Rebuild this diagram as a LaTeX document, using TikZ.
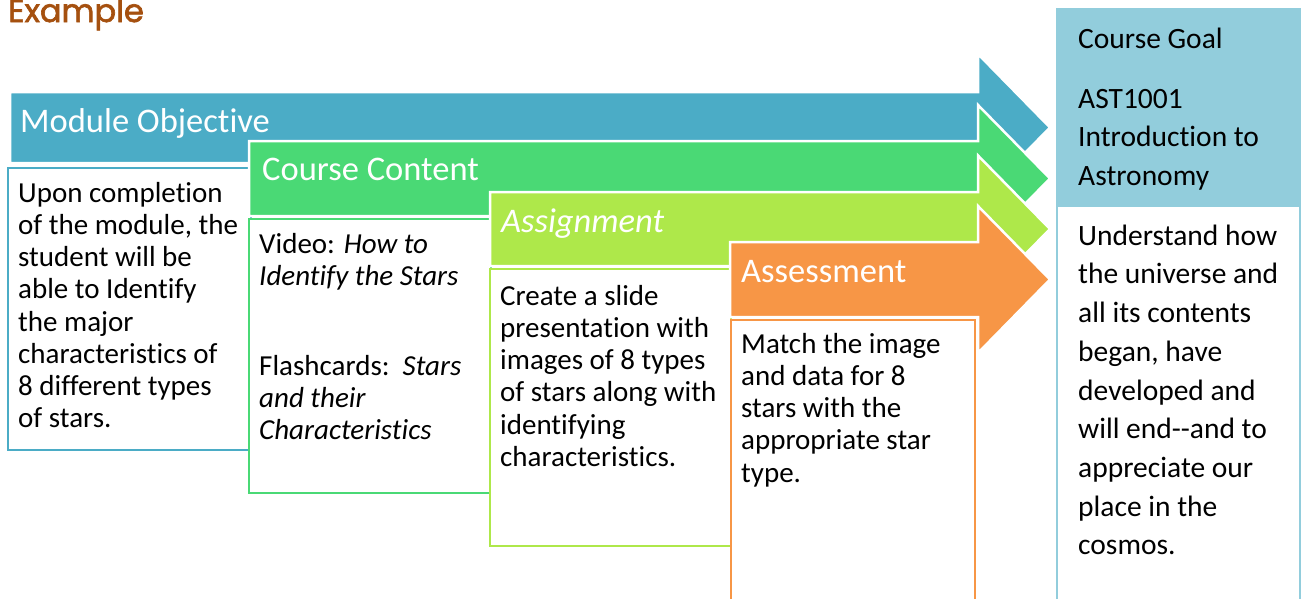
\documentclass[tikz,border=0pt]{standalone}
\usepackage{fontspec}
\setmainfont{Carlito}[Ligatures={TeX,NoCommon}]
\newfontfamily\exfont[FakeBold=2]{Poppins}
\definecolor{cblue}{HTML}{4BACC6}
\definecolor{cgreen}{HTML}{4AD975}
\definecolor{clgreen}{HTML}{AEE84A}
\definecolor{corange}{HTML}{F79646}
\definecolor{cgoal}{HTML}{92CDDC}
\definecolor{cbrown}{HTML}{A5500F}
\newcommand\firstln{\rule{0pt}{24pt}}
\newcommand\firsthd{\rule{0pt}{28pt}}
\tikzset{
  band/.style={draw=white, line width=2.5pt, line join=miter},
  bodybox/.style={fill=white, line width=2.5pt},
  hdtxt/.style={anchor=north west, inner sep=0pt, align=left, text=white, font=\fontsize{34.5}{40}\selectfont},
  bodytxt/.style={anchor=north west, inner sep=0pt, align=left, text=black, font=\fontsize{29}{32.2}\selectfont},
  goaltxt/.style={anchor=north west, inner sep=0pt, align=left, text=black, font=\fontsize{29.5}{38.7}\selectfont},
}
\begin{document}
\begin{tikzpicture}[x=1pt,y=-1pt]
\useasboundingbox (0,0) rectangle (1302,598);
% Example title
\node[anchor=base west, inner sep=0pt, text=cbrown, font=\exfont\fontsize{32}{38}\selectfont] (title) at (8,22) {Example};
% Course goal column
\fill[cgoal] (1057,9) rectangle (1300,207);
\draw[cgoal, line width=2.5pt] (1057,9) rectangle (1300,640);
\node[goaltxt] (goalhd) at (1078,24) {\firstln Course Goal};
\node[goaltxt] (goalname) at (1078,84) {\firstln AST1001\\Introduction to\\Astronomy};
\node[goaltxt] (goalbody) at (1078,221) {\firstln Understand how\\the universe and\\all its contents\\began, have\\developed and\\will end-{}-and to\\appreciate our\\place in the\\cosmos.};
% Module objective
\filldraw[band, fill=cblue] (10,92) -- (978,92) -- (978,54) -- (1050,127.5) -- (978,201) -- (978,163) -- (10,163) -- cycle;
\node[hdtxt] (modhd) at (20,104) {\firsthd Module Objective};
\filldraw[bodybox, draw=cblue] (8,168) rectangle (251,450);
\node[bodytxt] (modbody) at (18,178) {\firstln Upon completion\\of the module, the\\student will be\\able to Identify\\the major\\characteristics of\\8 different types\\of stars.};
% Course content
\filldraw[band, fill=cgreen] (249,141) -- (978,141) -- (978,105) -- (1050,178.5) -- (978,252) -- (978,216) -- (249,216) -- cycle;
\node[hdtxt] (conthd) at (262,152) {\firsthd Course Content};
\filldraw[bodybox, draw=cgreen] (249,219) rectangle (491,493);
\node[bodytxt] (contbody1) at (259,229) {\firstln Video: \textit{How to}\\\textit{Identify the Stars}};
\node[bodytxt] (contbody2) at (259,351) {\firstln Flashcards:\ \ \textit{Stars}\\\textit{and their}\\\textit{Characteristics}};
% Assignment
\filldraw[band, fill=clgreen] (490,192) -- (978,192) -- (978,155.5) -- (1050,229) -- (978,302.5) -- (978,266) -- (490,266) -- cycle;
\node[hdtxt] (asghd) at (501,204) {\firsthd \textit{Assignment}};
\filldraw[bodybox, draw=clgreen] (490,269) rectangle (731,546);
\node[bodytxt] (asgbody) at (500,281) {\firstln Create a slide\\presentation with\\images of 8 types\\of stars along with\\identifying\\characteristics.};
% Assessment
\filldraw[band, fill=corange] (730,242) -- (978,242) -- (978,206) -- (1050,279.5) -- (978,353) -- (978,317) -- (730,317) -- cycle;
\node[hdtxt] (asshd) at (741,254) {\firsthd Assessment};
\filldraw[bodybox, draw=corange] (731,320) rectangle (975,640);
\node[bodytxt] (assbody) at (741,329) {\firstln Match the image\\and data for 8\\stars with the\\appropriate star\\type.};
\end{tikzpicture}
\end{document}
